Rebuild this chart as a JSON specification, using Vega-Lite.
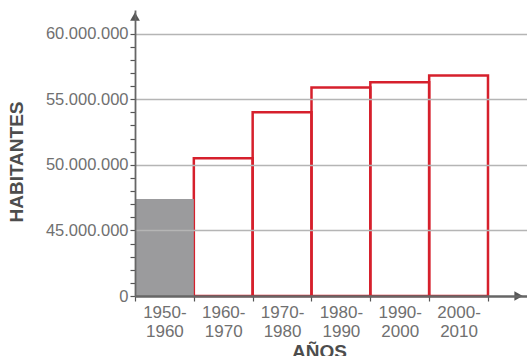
{
  "$schema": "https://vega.github.io/schema/vega-lite/v6.json",
  "width": 392,
  "height": 286,
  "autosize": "none",
  "padding": {"left": 135, "top": 10, "right": 0, "bottom": 60},
  "background": "white",
  "config": {"view": {"stroke": null}, "font": "Liberation Sans"},
  "data": {"values": [
    {"periodo": "1950-1960", "inicio": 1950, "fin": 1960, "habitantes": 47400000},
    {"periodo": "1960-1970", "inicio": 1960, "fin": 1970, "habitantes": 50500000},
    {"periodo": "1970-1980", "inicio": 1970, "fin": 1980, "habitantes": 54000000},
    {"periodo": "1980-1990", "inicio": 1980, "fin": 1990, "habitantes": 55900000},
    {"periodo": "1990-2000", "inicio": 1990, "fin": 2000, "habitantes": 56300000},
    {"periodo": "2000-2010", "inicio": 2000, "fin": 2010, "habitantes": 56800000}
  ]},
  "layer": [
    {
      "encoding": {
        "x": {
          "field": "inicio", "type": "quantitative",
          "scale": {"domain": [1950, 2016.63], "nice": false, "zero": false},
          "axis": {
            "values": [1950, 1960, 1970, 1980, 1990, 2000, 2010],
            "labelExpr": "datum.value < 2010 ? [datum.value + '-', (datum.value + 10) + ''] : ''",
            "labelOffset": 29.4, "labelAlign": "center", "labelBaseline": "top",
            "labelFlush": false, "labelOverlap": false, "labelBound": false,
            "labelFontSize": 17, "labelColor": "#707070", "labelLineHeight": 19, "labelPadding": 3,
            "tickSize": 5, "tickColor": "#555555", "tickWidth": 1.2,
            "domainColor": "#666666", "domainWidth": 2.6, "grid": false, "zindex": 1,
            "title": "AÑOS", "titleFontSize": 19, "titleFontWeight": "bold", "titleColor": "#4d4d4d",
            "titleX": 184, "titleY": 61, "titleAlign": "center", "titleBaseline": "alphabetic"
          }
        },
        "y": {
          "field": "habitantes", "type": "quantitative",
          "scale": {"domain": [40000000, 61800000], "nice": false, "zero": false},
          "axis": {
            "values": [40000000, 41000000, 42000000, 43000000, 44000000, 45000000, 46000000, 47000000, 48000000, 49000000, 50000000, 51000000, 52000000, 53000000, 54000000, 55000000, 56000000, 57000000, 58000000, 59000000, 60000000],
            "labelExpr": "datum.value % 5000000 == 0 ? (datum.value == 40000000 ? '0' : (datum.value / 1000000) + '.000.000') : ''",
            "labelFontSize": 16.5, "labelColor": "#707070", "labelPadding": 2,
            "labelOverlap": false, "labelFlush": false,
            "tickSize": 5, "tickColor": "#555555", "tickWidth": 1.2,
            "domainColor": "#666666", "domainWidth": 1.8,
            "grid": true, "gridColor": "#b5b5b5", "gridWidth": 1.4,
            "gridOpacity": {"condition": {"test": "datum.value % 5000000 == 0 && datum.value > 40000000", "value": 1}, "value": 0},
            "zindex": 1,
            "title": "HABITANTES", "titleFontSize": 19, "titleFontWeight": "bold", "titleColor": "#4d4d4d",
            "titleAngle": -90, "titleX": -118.5, "titleY": 151.5, "titleAlign": "center", "titleBaseline": "middle"
          }
        }
      },
      "layer": [
        {
          "transform": [{"filter": "datum.inicio > 1950"}],
          "mark": {"type": "rect", "filled": false, "stroke": "#d6202c", "strokeWidth": 2.5},
          "encoding": {"x2": {"field": "fin"}, "y2": {"datum": 40000000}}
        },
        {
          "transform": [{"filter": "datum.inicio == 1950"}],
          "mark": {"type": "rect", "fill": "#9b9b9d"},
          "encoding": {"x2": {"field": "fin"}, "y2": {"datum": 40000000}}
        }
      ]
    },
    {
      "data": {"values": [{"flecha": "y"}]},
      "mark": {"type": "point", "shape": "triangle-up", "filled": true, "fill": "#555555", "stroke": null, "opacity": 1, "size": 95},
      "encoding": {
        "x": {"datum": 1950, "type": "quantitative",
          "scale": {"domain": [1950, 2016.63], "nice": false, "zero": false},
          "axis": {
            "values": [1950, 1960, 1970, 1980, 1990, 2000, 2010],
            "labelExpr": "datum.value < 2010 ? [datum.value + '-', (datum.value + 10) + ''] : ''",
            "labelOffset": 29.4, "labelAlign": "center", "labelBaseline": "top",
            "labelFlush": false, "labelOverlap": false, "labelBound": false,
            "labelFontSize": 17, "labelColor": "#707070", "labelLineHeight": 19, "labelPadding": 3,
            "tickSize": 5, "tickColor": "#555555", "tickWidth": 1.2,
            "domainColor": "#666666", "domainWidth": 2.6, "grid": false, "zindex": 1,
            "title": "AÑOS", "titleFontSize": 19, "titleFontWeight": "bold", "titleColor": "#4d4d4d",
            "titleX": 184, "titleY": 61, "titleAlign": "center", "titleBaseline": "alphabetic"
          }
        },
        "y": {"datum": 61300000, "type": "quantitative",
          "scale": {"domain": [40000000, 61800000], "nice": false, "zero": false},
          "axis": {
            "values": [40000000, 41000000, 42000000, 43000000, 44000000, 45000000, 46000000, 47000000, 48000000, 49000000, 50000000, 51000000, 52000000, 53000000, 54000000, 55000000, 56000000, 57000000, 58000000, 59000000, 60000000],
            "labelExpr": "datum.value % 5000000 == 0 ? (datum.value == 40000000 ? '0' : (datum.value / 1000000) + '.000.000') : ''",
            "labelFontSize": 16.5, "labelColor": "#707070", "labelPadding": 2,
            "labelOverlap": false, "labelFlush": false,
            "tickSize": 5, "tickColor": "#555555", "tickWidth": 1.2,
            "domainColor": "#666666", "domainWidth": 1.8,
            "grid": true, "gridColor": "#b5b5b5", "gridWidth": 1.4,
            "gridOpacity": {"condition": {"test": "datum.value % 5000000 == 0 && datum.value > 40000000", "value": 1}, "value": 0},
            "zindex": 1,
            "title": "HABITANTES", "titleFontSize": 19, "titleFontWeight": "bold", "titleColor": "#4d4d4d",
            "titleAngle": -90, "titleX": -118.5, "titleY": 151.5, "titleAlign": "center", "titleBaseline": "middle"
          }
        }
      }
    },
    {
      "data": {"values": [{"flecha": "x"}]},
      "mark": {"type": "point", "shape": "triangle-right", "filled": true, "fill": "#555555", "stroke": null, "opacity": 1, "size": 95},
      "encoding": {
        "x": {"datum": 2015.2, "type": "quantitative",
          "scale": {"domain": [1950, 2016.63], "nice": false, "zero": false},
          "axis": {
            "values": [1950, 1960, 1970, 1980, 1990, 2000, 2010],
            "labelExpr": "datum.value < 2010 ? [datum.value + '-', (datum.value + 10) + ''] : ''",
            "labelOffset": 29.4, "labelAlign": "center", "labelBaseline": "top",
            "labelFlush": false, "labelOverlap": false, "labelBound": false,
            "labelFontSize": 17, "labelColor": "#707070", "labelLineHeight": 19, "labelPadding": 3,
            "tickSize": 5, "tickColor": "#555555", "tickWidth": 1.2,
            "domainColor": "#666666", "domainWidth": 2.6, "grid": false, "zindex": 1,
            "title": "AÑOS", "titleFontSize": 19, "titleFontWeight": "bold", "titleColor": "#4d4d4d",
            "titleX": 184, "titleY": 61, "titleAlign": "center", "titleBaseline": "alphabetic"
          }
        },
        "y": {"datum": 40000000, "type": "quantitative",
          "scale": {"domain": [40000000, 61800000], "nice": false, "zero": false},
          "axis": {
            "values": [40000000, 41000000, 42000000, 43000000, 44000000, 45000000, 46000000, 47000000, 48000000, 49000000, 50000000, 51000000, 52000000, 53000000, 54000000, 55000000, 56000000, 57000000, 58000000, 59000000, 60000000],
            "labelExpr": "datum.value % 5000000 == 0 ? (datum.value == 40000000 ? '0' : (datum.value / 1000000) + '.000.000') : ''",
            "labelFontSize": 16.5, "labelColor": "#707070", "labelPadding": 2,
            "labelOverlap": false, "labelFlush": false,
            "tickSize": 5, "tickColor": "#555555", "tickWidth": 1.2,
            "domainColor": "#666666", "domainWidth": 1.8,
            "grid": true, "gridColor": "#b5b5b5", "gridWidth": 1.4,
            "gridOpacity": {"condition": {"test": "datum.value % 5000000 == 0 && datum.value > 40000000", "value": 1}, "value": 0},
            "zindex": 1,
            "title": "HABITANTES", "titleFontSize": 19, "titleFontWeight": "bold", "titleColor": "#4d4d4d",
            "titleAngle": -90, "titleX": -118.5, "titleY": 151.5, "titleAlign": "center", "titleBaseline": "middle"
          }
        }
      }
    }
  ]
}
